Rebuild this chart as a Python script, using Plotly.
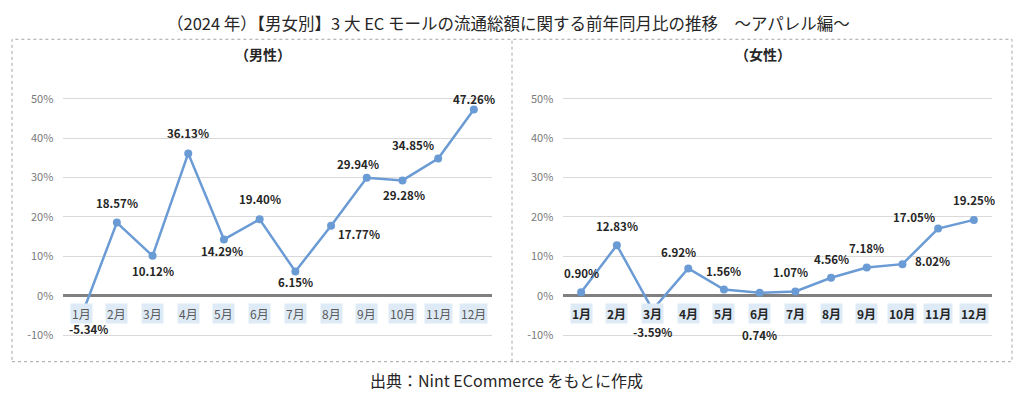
import plotly.graph_objects as go

# ---- data ----
months = ["1月", "2月", "3月", "4月", "5月", "6月", "7月", "8月", "9月", "10月", "11月", "12月"]
male_yoy = [-5.34, 18.57, 10.12, 36.13, 14.29, 19.40, 6.15, 17.77, 29.94, 29.28, 34.85, 47.26]
female_yoy = [0.90, 12.83, -3.59, 6.92, 1.56, 0.74, 1.07, 4.56, 7.18, 8.02, 17.05, 19.25]
y_ticks = [-10, 0, 10, 20, 30, 40, 50]

title_text = "（2024 年）【男女別】3 大 EC モールの流通総額に関する前年同月比の推移　～アパレル編～"
panel_titles = ["（男性）", "（女性）"]
source_text = "出典：Nint ECommerce をもとに作成"

# label placement offsets (pixels) - style only
male_dx = [7, 0, 0, 0, -2, 0, 0, 28, -9, 2, -25, 0]
male_dy = [-12, 20, -15, 20, -12, 20, -11, -8, 14, -15, 13, 11]
female_dx = [0, 0, 0, -10, 0, 0, -5, 0, 0, 30, -24, 0]
female_dy = [19, 19, -22, 16, 19, -42, 19, 19, 19, 3, 12, 20]

FONT = "Noto Sans CJK JP"
LINE_COLOR = "#6b9bd5"
W, H = 1024, 398


def px_x(p):
    return p / W


def px_y(p):
    return 1 - p / H


fig = go.Figure()

fig.add_trace(go.Scatter(
    x=months, y=male_yoy, mode="lines+markers",
    line=dict(color=LINE_COLOR, width=2.5),
    marker=dict(color=LINE_COLOR, size=8),
    xaxis="x", yaxis="y", hoverinfo="skip", showlegend=False,
))
fig.add_trace(go.Scatter(
    x=months, y=female_yoy, mode="lines+markers",
    line=dict(color=LINE_COLOR, width=2.5),
    marker=dict(color=LINE_COLOR, size=8),
    xaxis="x2", yaxis="y2", hoverinfo="skip", showlegend=False,
))

ydom = [0.1435, 0.7696]
xaxis_common = dict(type="category", categoryorder="array", categoryarray=months,
                    range=[-0.5, 11.5], showticklabels=False, showgrid=False,
                    zeroline=False, showline=False, ticks="", fixedrange=True)
yaxis_common = dict(range=[-11, 51], tickvals=y_ticks, ticktext=[f"{v}%" for v in y_ticks],
                    showgrid=True, gridcolor="#d9d9d9", gridwidth=1,
                    zeroline=True, zerolinecolor="#808080", zerolinewidth=2.5,
                    showline=False, ticks="", ticklabelstandoff=9,
                    tickfont=dict(family=FONT, size=11, color="#7a7a7a"), fixedrange=True)

fig.update_layout(
    width=W, height=H, autosize=False,
    margin=dict(l=0, r=0, t=0, b=0),
    paper_bgcolor="white", plot_bgcolor="white",
    xaxis=dict(domain=[px_x(63.3), px_x(491.7)], anchor="y", **xaxis_common),
    yaxis=dict(domain=ydom, anchor="x", **yaxis_common),
    xaxis2=dict(domain=[px_x(563.3), px_x(991.7)], anchor="y2", **xaxis_common),
    yaxis2=dict(domain=ydom, anchor="x2", **yaxis_common),
    font=dict(family=FONT),
)

annotations = []
# data labels
for series, dxs, dys, xr, yr in [(male_yoy, male_dx, male_dy, "x", "y"),
                                  (female_yoy, female_dx, female_dy, "x2", "y2")]:
    for m, v, dx, dy in zip(months, series, dxs, dys):
        annotations.append(dict(
            x=m, y=v, xref=xr, yref=yr, text=f"{v:.2f}%", showarrow=False,
            xshift=dx, yshift=dy, xanchor="center", yanchor="middle",
            font=dict(family=FONT, size=11.5, color="#262626", weight="bold"),
        ))

# category labels with light-blue boxes
for xr, yr, col, wt in [("x", "y", "#595959", "normal"), ("x2", "y2", "#262626", "bold")]:
    for m in months:
        annotations.append(dict(
            x=m, y=0, xref=xr, yref=yr, text=m, showarrow=False, yshift=-18,
            xanchor="center", yanchor="middle",
            bgcolor="#deebf7", borderpad=1,
            font=dict(family=FONT, size=12, color=col, weight=wt),
        ))


def paper_text(x, y, text, size, weight="normal"):
    return dict(x=px_x(x), y=px_y(y), xref="paper", yref="paper", text=text,
                showarrow=False, xanchor="center", yanchor="middle",
                font=dict(family=FONT, size=size, color="#262626", weight=weight))


annotations.append(paper_text(508, 18, title_text, 16.5))
annotations.append(paper_text(263, 50, panel_titles[0], 14, "bold"))
annotations.append(paper_text(763, 50, panel_titles[1], 14, "bold"))
annotations.append(paper_text(506, 383, source_text, 16))

fig.update_layout(annotations=annotations)

# dashed frame and divider
border = dict(color="#a6a6a6", width=1, dash="dot")
fig.update_layout(shapes=[
    dict(type="rect", xref="paper", yref="paper", x0=px_x(12), x1=px_x(1012),
         y0=px_y(364), y1=px_y(35), line=border, layer="below"),
    dict(type="line", xref="paper", yref="paper", x0=px_x(512), x1=px_x(512),
         y0=px_y(364), y1=px_y(35), line=border, layer="below"),
])

fig.write_html("out.html", config={"displayModeBar": False},
               post_script="document.body.style.margin='0';document.body.style.overflow='hidden';")
